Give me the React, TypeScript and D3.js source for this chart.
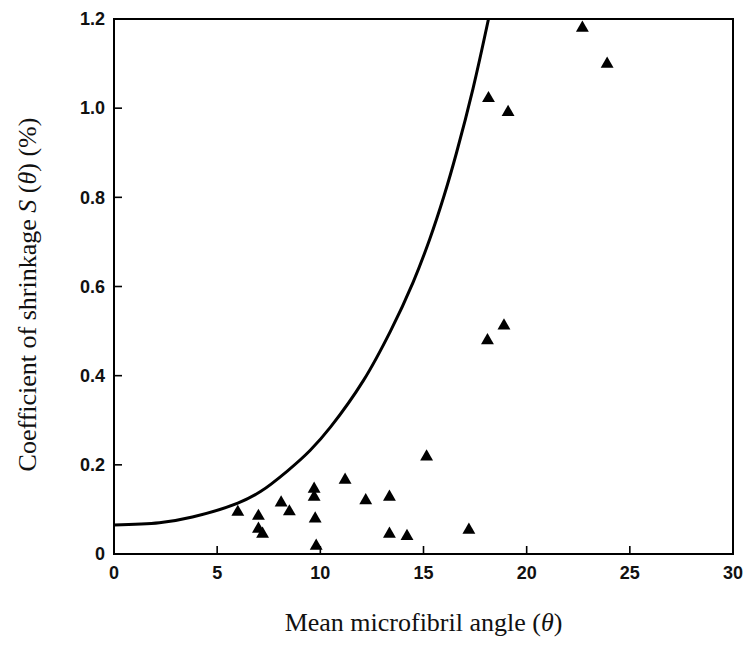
import React from 'react';
import * as d3 from 'd3';

// measured points (mean microfibril angle, shrinkage %)
const angles = [6.0, 7.0, 7.0, 7.2, 8.1, 8.5, 9.7, 9.7, 9.75, 9.8, 11.2, 12.2, 13.35, 13.35, 14.2, 15.15, 17.2, 18.1, 18.9, 18.15, 19.1, 22.7, 23.9];
const shrinkage = [0.094, 0.085, 0.056, 0.045, 0.115, 0.095, 0.146, 0.128, 0.079, 0.018, 0.166, 0.12, 0.128, 0.045, 0.04, 0.218, 0.054, 0.479, 0.512, 1.022, 0.991, 1.18, 1.099];

// theoretical curve
const curveX = [0, 2.2, 3.8, 6.0, 7.1, 8.4, 9.5, 10.5, 12.1, 13.4, 14.5, 15.3, 16.0, 16.6, 17.4, 18.15];
const curveY = [0.065, 0.07, 0.083, 0.114, 0.14, 0.186, 0.232, 0.285, 0.39, 0.5, 0.61, 0.706, 0.804, 0.9, 1.044, 1.2];

const xTicks = [0, 5, 10, 15, 20, 25, 30];
const yTicks = [0, 0.2, 0.4, 0.6, 0.8, 1.0, 1.2];

const width = 746;
const height = 647;
const margin = { top: 19, right: 13, bottom: 93, left: 114 };

const App: React.FC = () => {
  const x = d3.scaleLinear().domain([0, 30]).range([margin.left, width - margin.right]);
  const y = d3.scaleLinear().domain([0, 1.2]).range([height - margin.bottom, margin.top]);

  const line = d3.line<number>()
    .x((_, i) => x(curveX[i]))
    .y((_, i) => y(curveY[i]))
    .curve(d3.curveCatmullRom.alpha(0.5));

  const tri = d3.symbol().type(d3.symbolTriangle).size(72)();

  const x0 = x(0), x1 = x(30), y0 = y(0), y1 = y(1.2);
  const tickFont = { fontFamily: '"Liberation Sans", Arial, sans-serif', fontSize: 18, fontWeight: 'bold' as const, fill: '#111' };
  const titleFont = { fontFamily: '"Liberation Serif", "Times New Roman", serif', fontSize: 26, fill: '#111' };

  return (
    <svg width={width} height={height} style={{ position: 'absolute', left: 0, top: 0, background: '#fff' }}>
      <defs>
        <clipPath id="plot">
          <rect x={x0} y={y1} width={x1 - x0} height={y0 - y1} />
        </clipPath>
      </defs>

      {/* frame */}
      <rect x={x0} y={y1} width={x1 - x0} height={y0 - y1} fill="none" stroke="#000" strokeWidth={2} />

      {/* x ticks */}
      {xTicks.map(t => (
        <g key={'x' + t}>
          {t > 0 && t < 30 && <line x1={x(t)} x2={x(t)} y1={y0} y2={y0 - 8} stroke="#000" strokeWidth={1.6} />}
          <text x={x(t)} y={y0 + 25} textAnchor="middle" style={tickFont}>{t}</text>
        </g>
      ))}

      {/* y ticks */}
      {yTicks.map(t => (
        <g key={'y' + t}>
          {t > 0 && t < 1.2 && <line x1={x0} x2={x0 + 8} y1={y(t)} y2={y(t)} stroke="#000" strokeWidth={1.6} />}
          <text x={x0 - 9} y={y(t)} dy="0.35em" textAnchor="end" style={tickFont}>{t === 0 ? '0' : t.toFixed(1)}</text>
        </g>
      ))}

      {/* curve */}
      <path d={line(curveX) ?? ''} fill="none" stroke="#000" strokeWidth={3} clipPath="url(#plot)" />

      {/* points */}
      {angles.map((a, i) => (
        <path key={i} d={tri ?? ''} transform={`translate(${x(a)},${y(shrinkage[i])})`} fill="#000" />
      ))}

      {/* axis titles */}
      <text x={(x0 + x1) / 2} y={631} textAnchor="middle" style={titleFont}>
        Mean microfibril angle (<tspan fontStyle="italic">θ</tspan>)
      </text>
      <text transform={`translate(36,${(y0 + y1) / 2 + 8}) rotate(-90)`} textAnchor="middle" style={titleFont}>
        Coefficient of shrinkage <tspan fontStyle="italic">S</tspan> (<tspan fontStyle="italic">θ</tspan>) (%)
      </text>
    </svg>
  );
};

export default App;
